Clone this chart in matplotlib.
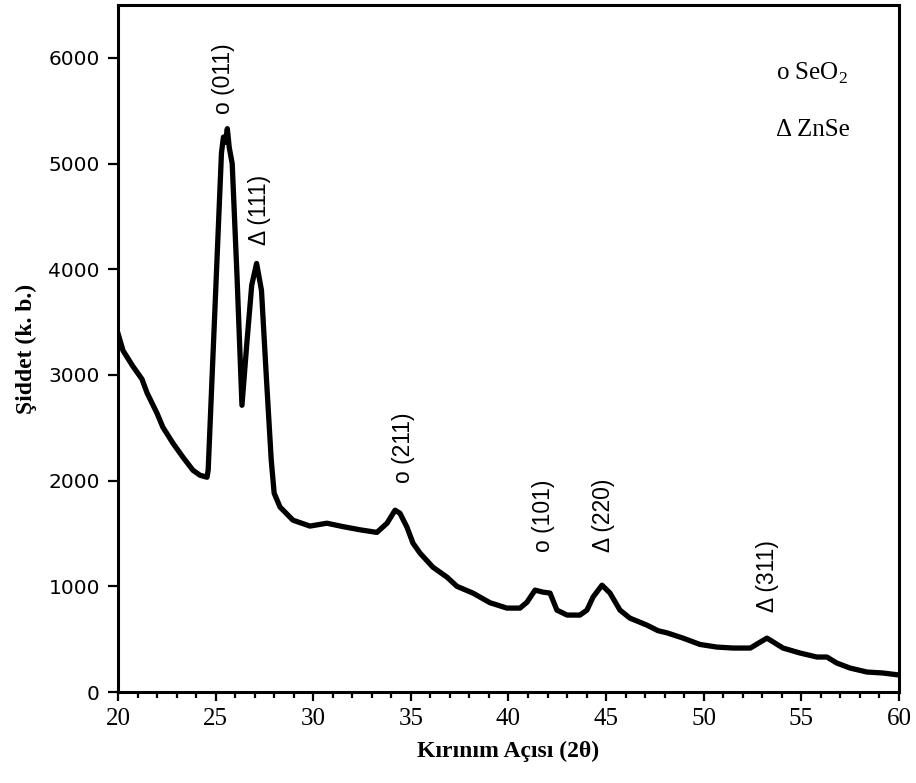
import matplotlib
matplotlib.use("Agg")
import matplotlib.pyplot as plt
from matplotlib.ticker import MultipleLocator

# ---- data ----
two_theta = [20.0, 20.26, 20.77, 21.23, 21.49, 22.00, 22.30, 22.82, 23.33, 23.84,
             24.20, 24.56, 24.62, 25.30, 25.40, 25.50, 25.60, 25.70, 25.85, 26.10,
             26.35, 26.60, 26.85, 27.10, 27.35, 27.60, 27.85, 28.00, 28.30, 28.96,
             29.83, 30.70, 31.52, 32.39, 33.26, 33.78, 34.19, 34.44, 34.80, 35.11,
             35.47, 36.13, 36.85, 37.36, 38.18, 39.05, 39.92, 40.59, 40.95, 41.36,
             41.77, 42.13, 42.48, 43.00, 43.66, 44.02, 44.33, 44.79, 45.20, 45.71,
             46.22, 47.09, 47.66, 48.12, 48.94, 49.81, 50.68, 51.52, 52.39, 52.90,
             53.24, 53.65, 54.06, 54.93, 55.80, 56.31, 56.82, 57.49, 58.36, 59.18,
             60.0]
intensity = [3393, 3230, 3080, 2960, 2830, 2637, 2505, 2353, 2221, 2098,
             2051, 2032, 2100, 5100, 5250, 5200, 5330, 5150, 5000, 3920,
             2713, 3300, 3850, 4055, 3800, 2977, 2193, 1881, 1750, 1626,
             1570, 1597, 1565, 1535, 1510, 1597, 1720, 1692, 1560, 1408,
             1314, 1181, 1087, 1000, 936, 845, 794, 794, 850, 964,
             945, 936, 775, 728, 728, 775, 898, 1011, 936, 775,
             699, 633, 580, 560, 510, 450, 425, 416, 416, 473,
             510, 463, 416, 369, 331, 331, 274, 227, 189, 180,
             161]

peak_labels = ["o (011)", "\u0394 (111)", "o (211)", "o (101)", "\u0394 (220)", "\u0394 (311)"]
peak_x = [25.40, 27.27, 34.60, 41.77, 44.89, 53.29]
peak_y = [5473, 4225, 1975, 1323, 1323, 756]

x_ticks = [20, 25, 30, 35, 40, 45, 50, 55, 60]
y_ticks = [0, 1000, 2000, 3000, 4000, 5000, 6000]

plt.rcParams['mathtext.fontset'] = 'custom'
plt.rcParams['mathtext.rm'] = 'Liberation Serif'

fig = plt.figure(figsize=(9.16, 7.83), dpi=100)
ax = fig.add_axes([0.1288, 0.1162, 0.8526, 0.8774])

ax.plot(two_theta, intensity, color='black', lw=3.8, solid_joinstyle='round')

ax.set_xlim(20, 60)
ax.set_ylim(0, 6500)
ax.set_xticks(x_ticks)
ax.set_yticks(y_ticks)
ax.xaxis.set_minor_locator(MultipleLocator(1))

for sp in ax.spines.values():
    sp.set_linewidth(2.2)

ax.tick_params(axis='x', which='major', direction='out', length=6.5, width=1.6, pad=5)
ax.tick_params(axis='x', which='minor', direction='out', length=4.3, width=1.6)
ax.tick_params(axis='y', which='major', direction='out', length=7, width=1.6, pad=6)

for lbl in ax.get_xticklabels():
    lbl.set_fontfamily('Liberation Serif')
    lbl.set_fontsize(18)
for lbl in ax.get_yticklabels():
    lbl.set_fontfamily('DejaVu Sans')
    lbl.set_fontsize(14.5)

ax.set_xlabel("K\u0131r\u0131n\u0131m A\u00e7\u0131s\u0131 (2\u03b8)", fontfamily='Liberation Serif',
              fontsize=17, fontweight='bold', labelpad=8)
ax.set_ylabel("\u015eiddet (k. b.)", fontfamily='Liberation Serif',
              fontsize=17, fontweight='bold', labelpad=8)

for t, xx, yy in zip(peak_labels, peak_x, peak_y):
    ax.text(xx, yy, t, rotation=90, ha='center', va='bottom',
            fontfamily='Liberation Sans', fontsize=16.5, color='black')

ax.text(0.842, 0.90, "o SeO$_2$", transform=ax.transAxes, fontfamily='Liberation Serif',
        fontsize=18, ha='left', va='center')
ax.text(0.842, 0.818, "\u0394 ZnSe", transform=ax.transAxes, fontfamily='Liberation Serif',
        fontsize=18, ha='left', va='center')

fig.savefig("out.png", dpi=100)
